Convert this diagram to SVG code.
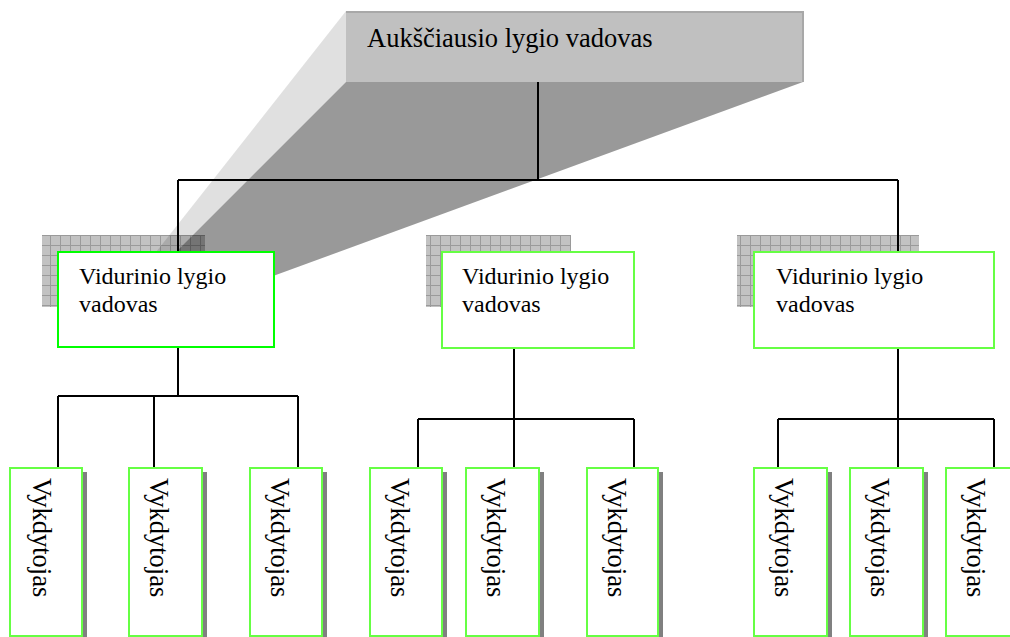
<svg xmlns="http://www.w3.org/2000/svg" width="1010" height="637" viewBox="0 0 1010 637">
<defs>
<pattern id="grid" width="10" height="10" patternUnits="userSpaceOnUse" x="0" y="5">
<rect width="10" height="10" fill="#c2c2c2"/>
<path d="M0,0.5H10M0.5,0V10" stroke="#9a9a9a" stroke-width="1"/>
</pattern>
<style>
.t{font-family:"Liberation Serif","Times New Roman",serif;fill:#000}
.mid{fill:#fff;stroke:#66ff44;stroke-width:2}
.leaf{fill:#fff;stroke:#66ff44;stroke-width:2}
.sh{fill:#808080}
.con{fill:none;stroke:#000;stroke-width:2}
.v{font-size:26.5px}
</style>
</defs>
<rect width="1010" height="637" fill="#fff"/>
<g id="mid-shadows">
<rect x="42" y="235" width="163" height="72" fill="url(#grid)"/>
<rect x="426" y="235" width="145" height="72" fill="url(#grid)"/>
<rect x="737" y="235" width="182" height="72" fill="url(#grid)"/>
</g>
<g id="top">
<polygon points="346,11 346,82 82,346" fill="#000" fill-opacity="0.12"/>
<polygon points="346,82 803,82 82,346" fill="#000" fill-opacity="0.4"/>
<rect x="346" y="11" width="457" height="71" fill="#c0c0c0"/>
<path d="M346,12H803V82" fill="none" stroke="#a8a8a8" stroke-width="2"/>
<text class="t" x="367" y="47" font-size="26.5">Aukščiausio lygio vadovas</text>
</g>
<g id="connectors">
<path class="con" d="M538,82V180M178,180H898M178,180V252M898,180V252"/>
<path class="con" d="M178,348V396M58,396H298M58,396V468M154,396V468M298,396V468"/>
<path class="con" d="M514,348V419M418,419H634M418,419V468M514,419V468M634,419V468"/>
<path class="con" d="M898,348V419M778,419H994M778,419V468M898,419V468M994,419V468"/>
</g>
<g id="mid1">
<rect x="58" y="252" width="216" height="95" fill="#fff" stroke="#00ff00" stroke-width="2"/>
<text class="t" font-size="24"><tspan x="79" y="284">Vidurinio lygio</tspan><tspan x="79" y="312">vadovas</tspan></text>
</g>
<g id="mid2">
<rect class="mid" x="442" y="252" width="192" height="96"/>
<text class="t" font-size="24"><tspan x="462" y="284">Vidurinio lygio</tspan><tspan x="462" y="312">vadovas</tspan></text>
</g>
<g id="mid3">
<rect class="mid" x="754" y="252" width="240" height="96"/>
<text class="t" font-size="24"><tspan x="776" y="284">Vidurinio lygio</tspan><tspan x="776" y="312">vadovas</tspan></text>
</g>
<g id="leaf1"><rect class="sh" x="15" y="472" width="72" height="170"/><rect class="leaf" x="10" y="468" width="72" height="168"/><text class="t v" transform="translate(33,478) rotate(90)">Vykdytojas</text></g>
<g id="leaf2"><rect class="sh" x="134" y="472" width="73" height="170"/><rect class="leaf" x="129" y="468" width="73" height="168"/><text class="t v" transform="translate(150,478) rotate(90)">Vykdytojas</text></g>
<g id="leaf3"><rect class="sh" x="255" y="472" width="72" height="170"/><rect class="leaf" x="250" y="468" width="72" height="168"/><text class="t v" transform="translate(271,478) rotate(90)">Vykdytojas</text></g>
<g id="leaf4"><rect class="sh" x="375" y="472" width="72" height="170"/><rect class="leaf" x="370" y="468" width="72" height="168"/><text class="t v" transform="translate(391,478) rotate(90)">Vykdytojas</text></g>
<g id="leaf5"><rect class="sh" x="471" y="472" width="73" height="170"/><rect class="leaf" x="466" y="468" width="73" height="168"/><text class="t v" transform="translate(487,478) rotate(90)">Vykdytojas</text></g>
<g id="leaf6"><rect class="sh" x="592" y="472" width="71" height="170"/><rect class="leaf" x="587" y="468" width="71" height="168"/><text class="t v" transform="translate(608,478) rotate(90)">Vykdytojas</text></g>
<g id="leaf7"><rect class="sh" x="759" y="472" width="73" height="170"/><rect class="leaf" x="754" y="468" width="73" height="168"/><text class="t v" transform="translate(775,478) rotate(90)">Vykdytojas</text></g>
<g id="leaf8"><rect class="sh" x="855" y="472" width="73" height="170"/><rect class="leaf" x="850" y="468" width="73" height="168"/><text class="t v" transform="translate(871,478) rotate(90)">Vykdytojas</text></g>
<g id="leaf9"><rect class="sh" x="951" y="472" width="73" height="170"/><rect class="leaf" x="946" y="468" width="73" height="168"/><text class="t v" transform="translate(967,478) rotate(90)">Vykdytojas</text></g>
</svg>
